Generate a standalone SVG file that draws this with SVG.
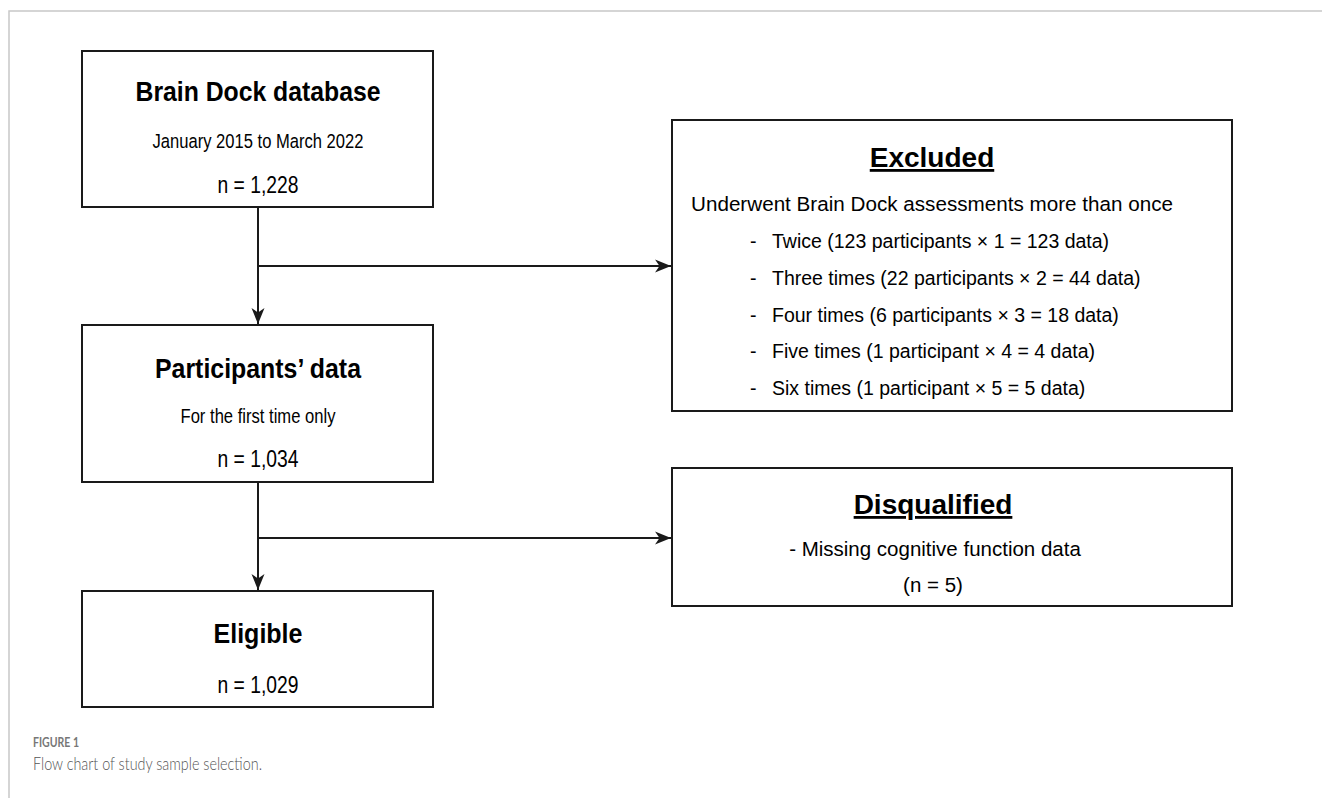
<svg xmlns="http://www.w3.org/2000/svg" width="1322" height="798" viewBox="0 0 1322 798">
<defs>
<style>
.box{fill:#fff;stroke:#1a1a1a;stroke-width:2}
.conn{fill:none;stroke:#1a1a1a;stroke-width:2}
.t{font-family:"Liberation Sans",Arial,sans-serif;fill:#000}
.h{font-weight:bold;font-size:28px;text-anchor:middle}
.s{font-size:20.5px;text-anchor:middle}
.n{font-size:24px;text-anchor:middle}
.r{font-size:19.5px}
.u{text-decoration:underline}
.cap1{font-family:Lato,"Open Sans",sans-serif;font-weight:bold;font-size:13px;fill:#777}
.cap2{font-family:Lato,"Open Sans",sans-serif;font-weight:300;font-size:17.5px;fill:#555}
</style>
<marker id="arr" viewBox="-17 -8 18 16" refX="0" refY="0" markerWidth="18" markerHeight="16" markerUnits="userSpaceOnUse" orient="auto">
<path d="M0,0 L-16,-6.5 L-11.5,0 L-16,6.5 Z" fill="#1a1a1a"/>
</marker>
</defs>
<rect width="1322" height="798" fill="#fff"/>
<path d="M9,798 V11 H1322" fill="none" stroke="#c8c8c8" stroke-width="1.5"/>

<g id="connectors">
<path class="conn" d="M258,207 V324" marker-end="url(#arr)"/>
<path class="conn" d="M258,266 H671" marker-end="url(#arr)"/>
<path class="conn" d="M258,482 V590" marker-end="url(#arr)"/>
<path class="conn" d="M258,538 H671" marker-end="url(#arr)"/>
</g>

<g id="brain-dock">
<rect class="box" x="82" y="51" width="351" height="156"/>
<text class="t h" x="258" y="101" textLength="245" lengthAdjust="spacingAndGlyphs">Brain Dock database</text>
<text class="t s" x="258" y="148" textLength="211" lengthAdjust="spacingAndGlyphs">January 2015 to March 2022</text>
<text class="t n" x="258" y="193" textLength="81" lengthAdjust="spacingAndGlyphs">n = 1,228</text>
</g>

<g id="participants">
<rect class="box" x="82" y="325" width="351" height="157"/>
<text class="t h" x="258" y="378" textLength="206" lengthAdjust="spacingAndGlyphs">Participants’ data</text>
<text class="t s" x="258" y="423" textLength="155" lengthAdjust="spacingAndGlyphs">For the first time only</text>
<text class="t n" x="258" y="467" textLength="81" lengthAdjust="spacingAndGlyphs">n = 1,034</text>
</g>

<g id="eligible">
<rect class="box" x="82" y="591" width="351" height="116"/>
<text class="t h" x="258" y="643" textLength="89" lengthAdjust="spacingAndGlyphs">Eligible</text>
<text class="t n" x="258" y="693" textLength="81" lengthAdjust="spacingAndGlyphs">n = 1,029</text>
</g>

<g id="excluded">
<rect class="box" x="672" y="120" width="560" height="291"/>
<text class="t h u" x="932" y="167">Excluded</text>
<text class="t s" x="932" y="211" textLength="482" lengthAdjust="spacingAndGlyphs">Underwent Brain Dock assessments more than once</text>
<text class="t r" x="750" y="248">-</text><text class="t r" x="772" y="248">Twice (123 participants × 1 = 123 data)</text>
<text class="t r" x="750" y="285">-</text><text class="t r" x="772" y="285">Three times (22 participants × 2 = 44 data)</text>
<text class="t r" x="750" y="322">-</text><text class="t r" x="772" y="322">Four times (6 participants × 3 = 18 data)</text>
<text class="t r" x="750" y="358">-</text><text class="t r" x="772" y="358">Five times (1 participant × 4 = 4 data)</text>
<text class="t r" x="750" y="395">-</text><text class="t r" x="772" y="395">Six times (1 participant × 5 = 5 data)</text>
</g>

<g id="disqualified">
<rect class="box" x="672" y="468" width="560" height="138"/>
<text class="t h u" x="933" y="514">Disqualified</text>
<text class="t s" x="935" y="556">- Missing cognitive function data</text>
<text class="t s" x="933" y="592">(n = 5)</text>
</g>

<g id="caption">
<text class="cap1" x="33" y="747" textLength="46" lengthAdjust="spacingAndGlyphs">FIGURE 1</text>
<text class="cap2" x="33" y="770" textLength="229" lengthAdjust="spacingAndGlyphs">Flow chart of study sample selection.</text>
</g>
</svg>
